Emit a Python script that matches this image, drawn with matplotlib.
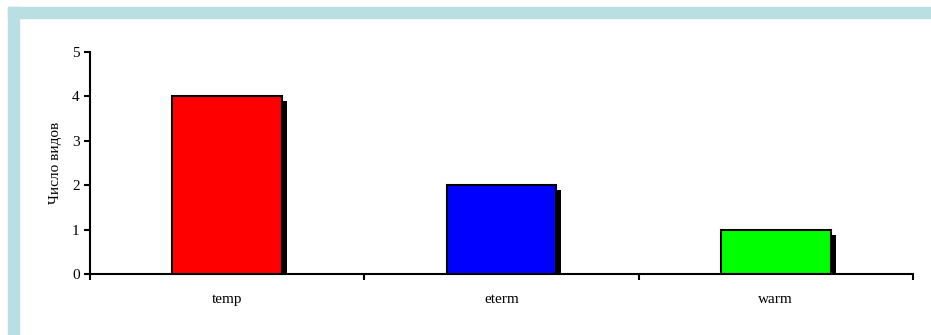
import matplotlib.pyplot as plt
import matplotlib.patheffects as pe
from matplotlib.patches import Rectangle

# data
categories = ['temp', 'eterm', 'warm']
species_count = [4, 2, 1]
bar_colors = ['#FF0000', '#0000FF', '#00FF00']
y_ticks = [0, 1, 2, 3, 4, 5]

plt.rcParams['font.family'] = ['Liberation Serif', 'DejaVu Serif']
plt.rcParams['font.size'] = 11

fig = plt.figure(figsize=(9.31, 3.35), dpi=100)
W, H = 931, 335

# light blue frame on top and left
frame = '#B9DFE2'
fig.patches.append(Rectangle((8 / W, 0), 11 / W, 1 - 7 / H, transform=fig.transFigure,
                             color=frame, zorder=0))
fig.patches.append(Rectangle((8 / W, 1 - 18 / H), 1 - 8 / W, 11 / H, transform=fig.transFigure,
                             color=frame, zorder=0))

ax = fig.add_axes([90 / W, 1 - 274 / H, (913 - 90) / W, (274 - 52) / H])
ax.set_facecolor('none')

x = range(len(categories))
bars = ax.bar(x, species_count, width=0.4, color=bar_colors,
              edgecolor='black', linewidth=1.5, zorder=3)
for b in bars:
    b.set_path_effects([pe.SimplePatchShadow(offset=(3.6, -3.6), shadow_rgbFace='black', alpha=1.0),
                        pe.Normal()])

ax.set_xlim(-0.5, len(categories) - 0.5)
ax.set_ylim(0, 5)
ax.set_yticks(y_ticks)

# category boundaries carry the tick marks, labels sit in the middle
ax.set_xticks([i - 0.5 for i in range(len(categories) + 1)])
ax.set_xticklabels([])
ax.set_xticks(list(x), minor=True)
ax.set_xticklabels(categories, minor=True)
ax.tick_params(axis='x', which='major', direction='out', length=4, width=1.5)
ax.tick_params(axis='x', which='minor', length=0, pad=13.5, labelsize=11)
ax.tick_params(axis='y', direction='out', length=4, width=1.5, pad=3.5, labelsize=11)

for s in ['top', 'right']:
    ax.spines[s].set_visible(False)
for s in ['left', 'bottom']:
    ax.spines[s].set_linewidth(1.5)
    ax.spines[s].set_zorder(4)

ax.set_ylabel('Число видов', fontsize=11, labelpad=7)

fig.savefig('out.png', dpi=100)
